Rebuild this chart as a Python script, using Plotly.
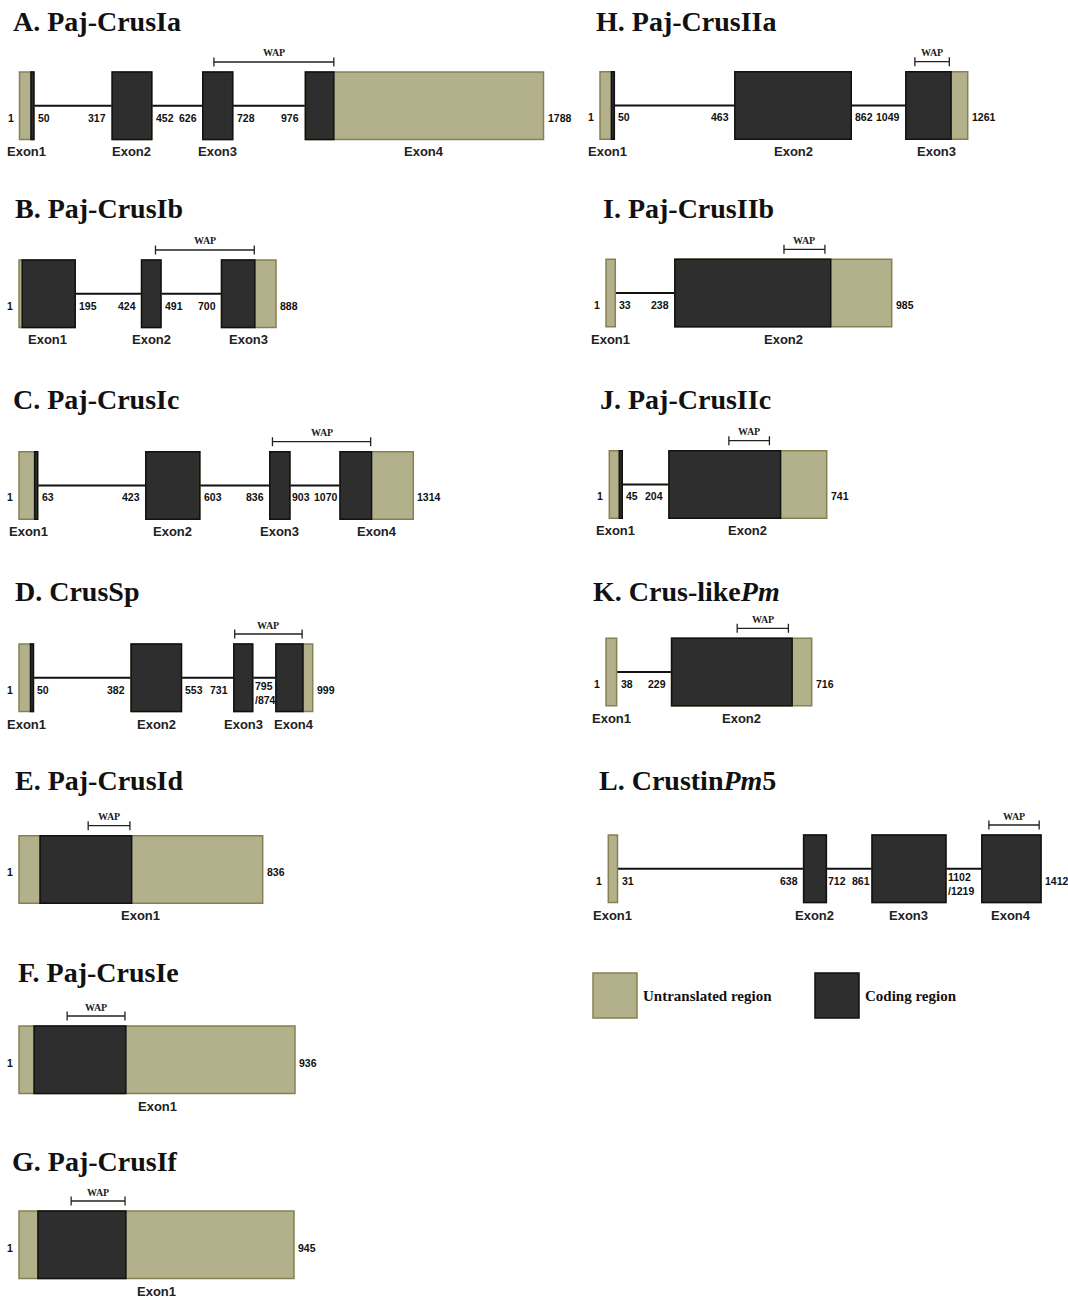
import plotly.graph_objects as go

# ---------------- gene models (bp) ----------------
# exons as (start, end); coding span (CDS) and WAP domain as (start, end)
crus_ia_exons = [(1, 50), (317, 452), (626, 728), (976, 1788)]
crus_ia_cds = (40, 1073)
crus_ia_wap = (664, 1073)

crus_ib_exons = [(1, 195), (424, 491), (700, 888)]
crus_ib_cds = (12, 815)
crus_ib_wap = (472, 813)

crus_ic_exons = [(1, 63), (423, 603), (836, 903), (1070, 1314)]
crus_ic_cds = (53, 1175)
crus_ic_wap = (845, 1172)

crus_sp_exons = [(1, 50), (382, 553), (731, 795), (874, 999)]
crus_sp_cds = (40, 966)
crus_sp_wap = (734, 963)

crus_id_exons = [(1, 836)]
crus_id_cds = (73, 387)
crus_id_wap = (238, 381)

crus_ie_exons = [(1, 936)]
crus_ie_cds = (52, 363)
crus_ie_wap = (164, 360)

crus_if_exons = [(1, 945)]
crus_if_cds = (66, 368)
crus_if_wap = (180, 365)

crus_iia_exons = [(1, 50), (463, 862), (1049, 1261)]
crus_iia_cds = (40, 1204)
crus_iia_wap = (1080, 1198)

crus_iib_exons = [(1, 33), (238, 985)]
crus_iib_cds = (238, 775)
crus_iib_wap = (614, 755)

crus_iic_exons = [(1, 45), (204, 741)]
crus_iic_cds = (35, 584)
crus_iic_wap = (408, 546)

crus_like_pm_exons = [(1, 38), (229, 716)]
crus_like_pm_cds = (229, 648)
crus_like_pm_wap = (457, 635)

crustin_pm5_exons = [(1, 31), (638, 712), (861, 1102), (1219, 1412)]
crustin_pm5_cds = (638, 1412)
crustin_pm5_wap = (1242, 1406)

panel_titles = [
    "A. Paj-CrusIa", "B. Paj-CrusIb", "C. Paj-CrusIc", "D. CrusSp",
    "E. Paj-CrusId", "F. Paj-CrusIe", "G. Paj-CrusIf",
    "H. Paj-CrusIIa", "I. Paj-CrusIIb", "J. Paj-CrusIIc",
    "K. Crus-like<i>Pm</i>", "L. Crustin<i>Pm</i>5",
]
panel_models = [
    (crus_ia_exons, crus_ia_cds, crus_ia_wap),
    (crus_ib_exons, crus_ib_cds, crus_ib_wap),
    (crus_ic_exons, crus_ic_cds, crus_ic_wap),
    (crus_sp_exons, crus_sp_cds, crus_sp_wap),
    (crus_id_exons, crus_id_cds, crus_id_wap),
    (crus_ie_exons, crus_ie_cds, crus_ie_wap),
    (crus_if_exons, crus_if_cds, crus_if_wap),
    (crus_iia_exons, crus_iia_cds, crus_iia_wap),
    (crus_iib_exons, crus_iib_cds, crus_iib_wap),
    (crus_iic_exons, crus_iic_cds, crus_iic_wap),
    (crus_like_pm_exons, crus_like_pm_cds, crus_like_pm_wap),
    (crustin_pm5_exons, crustin_pm5_cds, crustin_pm5_wap),
]
legend_labels = ["Untranslated region", "Coding region"]

# ---------------- page geometry (pixels) ----------------
W, H = 1068, 1298
BOX_H = 67.5
# gene track placement: left edge, right edge, top of exon boxes
track_px = [
    (19.5, 543.5, 72), (19, 276, 260), (19, 413.3, 451.7), (19, 312.7, 644),
    (19, 262.7, 835.7), (19, 295, 1026), (19, 294, 1211),
    (600, 967.7, 71.7), (606, 891.7, 259.3), (609.3, 826.7, 450.7),
    (606, 811.7, 638.3), (608.3, 1041, 835),
]
# panel heading anchor: left x, vertical middle
title_px = [
    (11, 21), (13, 208), (11, 399), (13, 591), (13, 781), (16, 972), (10, 1161),
    (594, 21), (601, 208), (598, 399), (591, 591), (597, 781),
]

UTR_FILL, UTR_EDGE = "#b3b08c", "#858150"
CDS_FILL, CDS_EDGE = "#2e2e2e", "#111111"
SERIF = "Liberation Serif, Times New Roman, serif"
SANS = "Liberation Sans, Arial, sans-serif"
NUM_SIZE = 10.5
DIGIT_W = 0.556 * NUM_SIZE  # advance of one bold digit

fig = go.Figure()
shapes, annotations = [], []
PAD = 6  # px of slack around each track so edges are not clipped
ABOVE, BELOW = 30, 6

for k, (title, (exons, cds, wap), (lpx, rpx, tpx), (tx, ty)) in enumerate(
        zip(panel_titles, panel_models, track_px, title_px), start=1):
    xr, yr = f"x{k}", f"y{k}"
    xa = "xaxis" if k == 1 else f"xaxis{k}"
    ya = "yaxis" if k == 1 else f"yaxis{k}"
    length = exons[-1][1]
    bp_per_px = (length - 1) / (rpx - lpx)
    fig.update_layout({
        xa: dict(domain=[(lpx - PAD) / W, (rpx + PAD) / W],
                 range=[1 - PAD * bp_per_px, length + PAD * bp_per_px],
                 visible=False, fixedrange=True, anchor=yr),
        ya: dict(domain=[1 - (tpx + BOX_H + BELOW) / H, 1 - (tpx - ABOVE) / H],
                 range=[-BELOW / BOX_H, 1 + ABOVE / BOX_H],
                 visible=False, fixedrange=True, anchor=xr),
    })
    fig.add_trace(go.Scatter(x=[1, length], y=[0, 1], mode="markers",
                             marker=dict(opacity=0), hoverinfo="skip",
                             showlegend=False, xaxis=xr, yaxis=yr))

    # introns
    for (s0, e0), (s1, e1) in zip(exons[:-1], exons[1:]):
        shapes.append(dict(type="line", xref=xr, yref=yr, x0=e0, x1=s1,
                           y0=0.5, y1=0.5, layer="below",
                           line=dict(color="#111111", width=2)))
    # exons with coding portion on top
    for i, (s, e) in enumerate(exons):
        shapes.append(dict(type="rect", xref=xr, yref=yr, x0=s, x1=e, y0=0, y1=1,
                           fillcolor=UTR_FILL, line=dict(color=UTR_EDGE, width=1.5)))
        c0, c1 = max(s, cds[0]), min(e, cds[1])
        if c1 > c0:
            shapes.append(dict(type="rect", xref=xr, yref=yr, x0=c0, x1=c1, y0=0, y1=1,
                               fillcolor=CDS_FILL, line=dict(color=CDS_EDGE, width=1.5)))
        annotations.append(dict(xref=xr, yref=yr, x=(s + e) / 2, y=0, yanchor="middle",
                                yshift=-12.5, text=f"<b>Exon{i + 1}</b>", showarrow=False,
                                font=dict(family=SANS, size=13, color="#222222")))

    # boundary coordinates: free space left inside each intron once both
    # numbers are set decides normal spacing, tight spacing or stacking
    def slack(e0, s1):
        return (s1 - e0) / bp_per_px - DIGIT_W * (len(str(e0)) + len(str(s1)))

    num_shift = -12 if len(exons) > 1 else -3
    num_font = dict(family=SANS, size=NUM_SIZE, color="#111111")
    for i, (s, e) in enumerate(exons):
        prev_slack = slack(exons[i - 1][1], s) if i > 0 else 99
        if prev_slack >= 4:
            annotations.append(dict(xref=xr, yref=yr, x=s, y=0.5, xanchor="right",
                                    xshift=-5 if prev_slack >= 12 else -1,
                                    yshift=num_shift, text=f"<b>{s}</b>",
                                    showarrow=False, font=num_font, borderpad=0))
        next_slack = slack(e, exons[i + 1][0]) if i + 1 < len(exons) else 99
        stack = next_slack < 4
        txt = f"<b>{e}<br>/{exons[i + 1][0]}</b>" if stack else f"<b>{e}</b>"
        annotations.append(dict(xref=xr, yref=yr, x=e, y=0.5, xanchor="left",
                                xshift=3 if next_slack >= 12 else 1,
                                yshift=num_shift - (3 if stack else 0),
                                text=txt, showarrow=False, font=num_font,
                                align="left", borderpad=0))

    # WAP domain bracket
    bline = dict(color="#222222", width=1.3)
    shapes.append(dict(type="line", xref=xr, yref=yr, ysizemode="pixel", yanchor=1,
                       x0=wap[0], x1=wap[1], y0=10, y1=10, line=bline))
    for xb in wap:
        shapes.append(dict(type="line", xref=xr, yref=yr, ysizemode="pixel", yanchor=1,
                           x0=xb, x1=xb, y0=5.5, y1=14.5, line=bline))
    annotations.append(dict(xref=xr, yref=yr, x=(wap[0] + wap[1]) / 2, y=1,
                            yshift=19, text="<b>WAP</b>", showarrow=False,
                            font=dict(family=SERIF, size=10, color="#222222")))

    # panel heading
    annotations.append(dict(xref="paper", yref="paper", x=tx / W, y=1 - ty / H,
                            xanchor="left", yanchor="middle", text=f"<b>{title}</b>",
                            showarrow=False,
                            font=dict(family=SERIF, size=28, color="#111111")))

# key for region colours
for (x0, x1), fill, edge, label in zip([(593, 637), (815, 859)],
                                        [UTR_FILL, CDS_FILL], [UTR_EDGE, CDS_EDGE],
                                        legend_labels):
    shapes.append(dict(type="rect", xref="paper", yref="paper",
                       x0=x0 / W, x1=x1 / W, y0=1 - 1018 / H, y1=1 - 973 / H,
                       fillcolor=fill, line=dict(color=edge, width=1.5)))
    annotations.append(dict(xref="paper", yref="paper", x=(x1 + 4) / W, y=1 - 996 / H,
                            xanchor="left", yanchor="middle", text=f"<b>{label}</b>",
                            showarrow=False,
                            font=dict(family=SERIF, size=15, color="#111111")))

fig.update_layout(width=W, height=H, margin=dict(l=0, r=0, t=0, b=0),
                  paper_bgcolor="white", plot_bgcolor="white",
                  shapes=shapes, annotations=annotations, showlegend=False)
fig.write_html("out.html")
